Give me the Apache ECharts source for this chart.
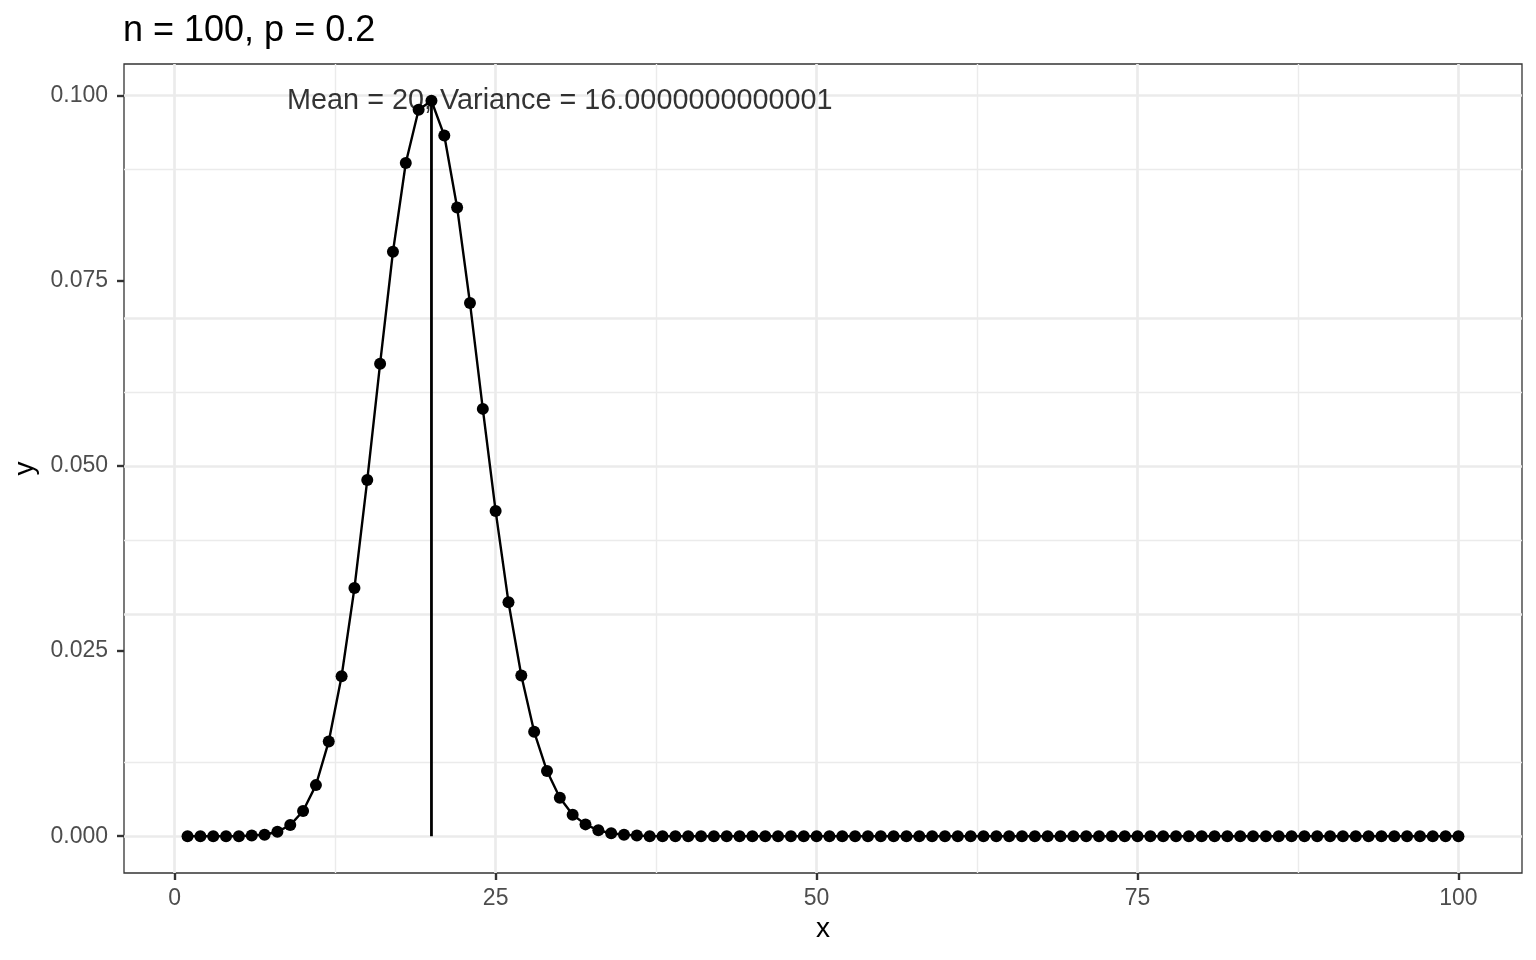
<!DOCTYPE html>
<html>
<head>
<meta charset="utf-8">
<script src="https://cdn.jsdelivr.net/npm/echarts@6/dist/echarts.min.js"></script>
<style>
  html, body { margin: 0; padding: 0; background: #fff; }
  #chart { width: 1536px; height: 960px; }
</style>
</head>
<body>
<div id="chart"></div>
<script>
  // binomial pmf, n = 100, p = 0.2
  let xData = [1, 2, 3, 4, 5, 6, 7, 8, 9, 10, 11, 12, 13, 14, 15, 16, 17, 18, 19, 20,
    21, 22, 23, 24, 25, 26, 27, 28, 29, 30, 31, 32, 33, 34, 35, 36, 37, 38, 39, 40,
    41, 42, 43, 44, 45, 46, 47, 48, 49, 50, 51, 52, 53, 54, 55, 56, 57, 58, 59, 60,
    61, 62, 63, 64, 65, 66, 67, 68, 69, 70, 71, 72, 73, 74, 75, 76, 77, 78, 79, 80,
    81, 82, 83, 84, 85, 86, 87, 88, 89, 90, 91, 92, 93, 94, 95, 96, 97, 98, 99, 100]
  let yData = [0, 0, 0, 0, 0, 0.0001, 0.0002, 0.0006, 0.0015, 0.0034,
    0.0069, 0.0128, 0.0216, 0.0335, 0.0481, 0.0638, 0.0789, 0.0909, 0.0981, 0.0993,
    0.0946, 0.0849, 0.0720, 0.0577, 0.0439, 0.0316, 0.0217, 0.0141, 0.0088, 0.0052,
    0.0029, 0.0016, 0.0008, 0.0004, 0.0002, 0.0001, 0, 0, 0, 0,
    0, 0, 0, 0, 0, 0, 0, 0, 0, 0,
    0, 0, 0, 0, 0, 0, 0, 0, 0, 0,
    0, 0, 0, 0, 0, 0, 0, 0, 0, 0,
    0, 0, 0, 0, 0, 0, 0, 0, 0, 0,
    0, 0, 0, 0, 0, 0, 0, 0, 0, 0,
    0, 0, 0, 0, 0, 0, 0, 0, 0, 0]
  let xTicks = [0, 25, 50, 75, 100]
  let xMinor = [12.5, 37.5, 62.5, 87.5]
  let yTicks = [0, 0.025, 0.05, 0.075, 0.1]
  let yMinor = [0.0125, 0.0375, 0.0625, 0.0875]
  let meanX = 20
  let peakY = 0.0993
  let labelX = 30
  let titleText = 'n = 100, p = 0.2'
  let noteText = 'Mean = 20, Variance = 16.0000000000001'

  let font = 'Liberation Sans, Arial, Helvetica, sans-serif'
  let points = xData.map((x, i) => [x, yData[i]])

  let gridLines = []
  xMinor.forEach(v => gridLines.push({ xAxis: v, lineStyle: { width: 1.4 } }))
  yMinor.forEach(v => gridLines.push({ yAxis: v, lineStyle: { width: 1.4 } }))
  xTicks.forEach(v => gridLines.push({ xAxis: v, lineStyle: { width: 2.7 } }))
  yTicks.forEach(v => gridLines.push({ yAxis: v, lineStyle: { width: 2.7 } }))

  let chart = echarts.init(document.getElementById('chart'))
  chart.setOption({
    animation: false,
    backgroundColor: '#ffffff',
    title: {
      text: titleText,
      left: 118,
      top: 8,
      textStyle: { fontFamily: font, fontSize: 36, fontWeight: 'normal', color: '#000' }
    },
    grid: {
      left: 124,
      right: 14,
      top: 64,
      bottom: 87,
      show: true,
      borderColor: '#333333',
      borderWidth: 1.3,
      backgroundColor: 'transparent'
    },
    xAxis: {
      type: 'value',
      min: -3.95,
      max: 104.95,
      name: 'x',
      nameLocation: 'middle',
      nameGap: 42,
      nameTextStyle: { fontFamily: font, fontSize: 28, color: '#000' },
      axisLine: { show: false, onZero: false },
      axisTick: { show: true, customValues: xTicks, length: 7, lineStyle: { color: '#333333', width: 2.4 } },
      axisLabel: { customValues: xTicks, margin: 14, fontFamily: font, fontSize: 23, color: '#4d4d4d' },
      splitLine: { show: false }
    },
    yAxis: {
      type: 'value',
      min: -0.004965,
      max: 0.104265,
      name: 'y',
      nameLocation: 'middle',
      nameGap: 80,
      nameRotate: 90,
      nameTextStyle: { fontFamily: font, fontSize: 28, color: '#000' },
      axisLine: { show: false, onZero: false },
      axisTick: { show: true, customValues: yTicks, length: 7, lineStyle: { color: '#333333', width: 2.4 } },
      axisLabel: {
        customValues: yTicks,
        margin: 16,
        fontFamily: font,
        fontSize: 23,
        color: '#4d4d4d',
        formatter: v => v.toFixed(3)
      },
      splitLine: { show: false }
    },
    series: [
      {
        // panel grid lines
        type: 'line',
        data: [[0, 0]],
        showSymbol: false,
        symbolSize: 0,
        lineStyle: { opacity: 0 },
        silent: true,
        z: 1,
        markLine: {
          silent: true,
          symbol: 'none',
          z: 1,
          label: { show: false },
          lineStyle: { color: '#ebebeb', type: 'solid' },
          data: gridLines
        }
      },
      {
        type: 'line',
        data: points,
        symbol: 'circle',
        symbolSize: 12,
        showSymbol: true,
        lineStyle: { color: '#000', width: 2.4 },
        itemStyle: { color: '#000', borderWidth: 0 },
        z: 3
      },
      {
        // mean segment
        type: 'line',
        data: [[meanX, 0], [meanX, peakY]],
        showSymbol: false,
        symbol: 'none',
        lineStyle: { color: '#000', width: 2.8 },
        z: 4
      },
      {
        type: 'scatter',
        data: [[labelX, peakY]],
        symbolSize: 0,
        z: 5,
        label: {
          show: true,
          position: 'inside',
          formatter: noteText,
          fontFamily: font,
          fontSize: 28.8,
          color: '#000',
          textBorderWidth: 0
        }
      }
    ]
  })
</script>
</body>
</html>
